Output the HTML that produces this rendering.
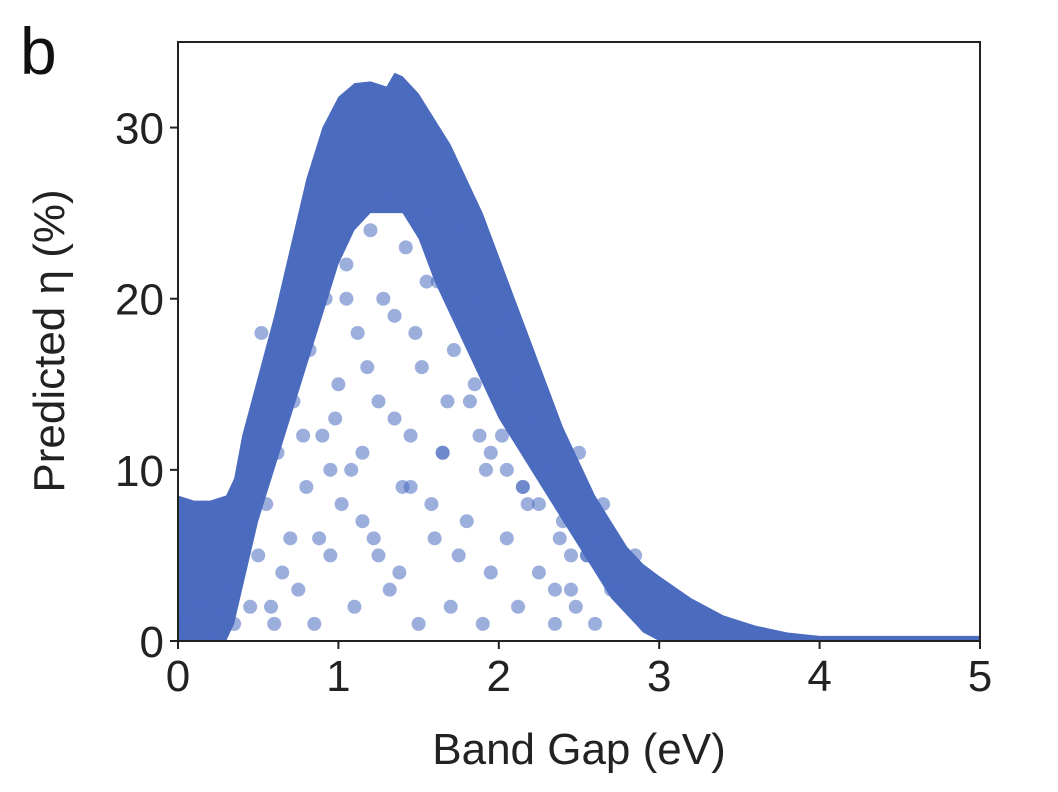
<!DOCTYPE html>
<html><head><meta charset="utf-8"><style>
html,body{margin:0;padding:0;background:#fff;}
svg{display:block;font-family:"Liberation Sans",Arial,sans-serif;}
</style></head><body>
<svg id="chart" width="1058" height="792" viewBox="0 0 1058 792">
<defs><clipPath id="clip"><rect x="178" y="42" width="802" height="599"/></clipPath></defs>
<text x="20" y="74" font-size="66" fill="#111">b</text>
<g id="plot" clip-path="url(#clip)"></g>
<rect x="178" y="42" width="802" height="599" fill="none" stroke="#222" stroke-width="2"/>
<g id="axes"></g>
<text x="579" y="764" font-size="44" text-anchor="middle" fill="#222">Band Gap (eV)</text>
<text transform="translate(64,341) rotate(-90)" font-size="44" text-anchor="middle" fill="#222">Predicted η (%)</text>
</svg>
<script>
const xTicks=[0,1,2,3,4,5];
const yTicks=[0,10,20,30];
const upperX=[0,0.1,0.2,0.3,0.35,0.4,0.5,0.6,0.7,0.8,0.9,1.0,1.1,1.2,1.3,1.35,1.4,1.5,1.6,1.7,1.8,1.9,2.0,2.1,2.2,2.3,2.4,2.5,2.6,2.7,2.8,2.9,3.0,3.2,3.4,3.6,3.8,4.0,5.0];
const upperY=[8.5,8.2,8.2,8.5,9.5,12,15.5,19,23,27,30,31.8,32.6,32.7,32.4,33.2,33,32,30.5,29,27,25,22.5,20,17.5,15,12.5,10.5,8.5,7,5.5,4.5,3.8,2.5,1.5,0.9,0.5,0.3,0.3];
const innerY=[0,0,0,0,1,3,7,10,13,16,19,22,24,25,25,25,25,23.5,21,19,17,15,13,11.5,10,8.5,7,5.5,4,2.5,1.5,0.5,0,0,0,0,0,0,0];
const dotX=[0.05,0.12,0.2,0.25,0.3,0.45,0.5,0.55,0.6,0.62,0.7,0.72,0.75,0.8,0.82,0.85,0.9,0.92,0.95,1.0,1.02,1.05,1.1,1.12,1.15,1.2,1.22,1.25,1.3,1.32,1.35,1.4,1.42,1.45,1.5,1.52,1.55,1.6,1.62,1.65,1.7,1.72,1.75,1.8,1.82,1.85,1.9,1.92,1.95,2.0,2.02,2.05,2.1,2.12,2.15,2.2,2.25,2.3,2.35,2.4,2.45,2.5,2.55,2.6,2.65,2.7,0.65,0.78,0.88,0.98,1.08,1.18,1.28,1.38,1.48,1.58,1.68,1.78,1.88,1.98,2.08,2.18,2.28,2.38,2.48,0.58,0.68,0.95,1.15,1.35,1.55,1.75,1.95,2.15,2.35,2.55,0.4,0.52,1.05,1.25,1.45,1.65,1.85,2.05,2.25,2.45,2.62,2.75,2.85,0.35,0.15];
const dotY=[1,2,0.5,1.5,3,2,5,8,1,11,6,14,3,9,17,1,12,20,5,15,8,22,2,18,11,24,6,14,26,3,19,9,23,12,1,16,25,6,21,11,2,17,24,7,14,20,1,10,4,18,12,6,15,2,9,13,4,10,1,7,3,11,5,1,8,3,4,12,6,13,10,16,20,4,18,8,14,22,12,16,19,8,14,6,2,2,15,10,7,13,21,5,11,9,3,5,7,18,20,5,9,11,15,10,8,5,6,3,5,1,2];
const X0=178,X1=980,Y0=641,Ymax=35,Ytop=42;
const sx=v=>X0+(X1-X0)*v/5;
const sy=v=>Y0-(Y0-Ytop)*v/Ymax;
const NS="http://www.w3.org/2000/svg";
const plot=document.getElementById('plot');
const axes=document.getElementById('axes');
const col="#4b6bbf";
let pts=upperX.map((x,i)=>sx(x)+","+sy(upperY[i]));
let inner=upperX.map((x,i)=>sx(x)+","+sy(innerY[i])).reverse();
const band=document.createElementNS(NS,'polygon');
band.setAttribute('points',pts.concat(inner).join(' '));
band.setAttribute('fill',col);


plot.appendChild(band);
const n=Math.min(dotX.length,dotY.length);
for(let i=0;i<n;i++){
 const c=document.createElementNS(NS,'circle');
 c.setAttribute('cx',sx(dotX[i]));c.setAttribute('cy',sy(dotY[i]));c.setAttribute('r',7);
 c.setAttribute('fill',col);c.setAttribute('fill-opacity','0.55');
 
 
 plot.appendChild(c);
}
xTicks.forEach(t=>{
 const l=document.createElementNS(NS,'line');
 l.setAttribute('x1',sx(t));l.setAttribute('x2',sx(t));l.setAttribute('y1',Y0);l.setAttribute('y2',Y0+8);
 l.setAttribute('stroke','#222');l.setAttribute('stroke-width','2');
 
 
 axes.appendChild(l);
 const tx=document.createElementNS(NS,'text');
 tx.setAttribute('x',sx(t));tx.setAttribute('y',Y0+50);tx.setAttribute('font-size','44');
 tx.setAttribute('text-anchor','middle');tx.setAttribute('fill','#222');tx.textContent=t;
 
 
 axes.appendChild(tx);
});
yTicks.forEach(t=>{
 const l=document.createElementNS(NS,'line');
 l.setAttribute('x1',X0-8);l.setAttribute('x2',X0);l.setAttribute('y1',sy(t));l.setAttribute('y2',sy(t));
 l.setAttribute('stroke','#222');l.setAttribute('stroke-width','2');
 
 
 axes.appendChild(l);
 const tx=document.createElementNS(NS,'text');
 tx.setAttribute('x',X0-14);tx.setAttribute('y',sy(t)+16);tx.setAttribute('font-size','44');
 tx.setAttribute('text-anchor','end');tx.setAttribute('fill','#222');tx.textContent=t;
 
 
 axes.appendChild(tx);
});
</script>
</body></html>
